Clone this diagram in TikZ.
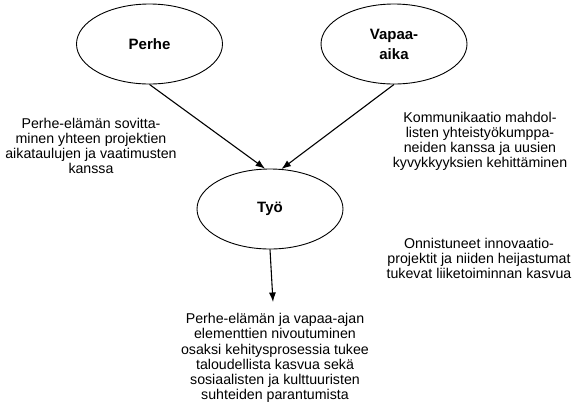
\documentclass[tikz,border=0pt]{standalone}
\usepackage{fontspec}
\setmainfont{Liberation Sans}
\usetikzlibrary{shapes.geometric,arrows.meta}
\begin{document}
\begin{tikzpicture}[x=1pt,y=-1pt,
  area/.style={ellipse,draw,line width=0.9pt,minimum width=146pt,minimum height=80pt,
    inner sep=0pt,align=center,font=\fontsize{15}{20}\selectfont\bfseries},
  note/.style={align=center,inner sep=0pt,font=\fontsize{14.2}{15.2}\selectfont},
  flow/.style={line width=1.1pt,-{Latex[length=9.5pt,width=7pt]}}]
\useasboundingbox (0,0) rectangle (573,408);

% the three domains
\node[area] (perhe) at (149.5,44) {Perhe};
\node[area] (vapaa) at (394,44) {Vapaa-\\aika};
\node[area] (tyo) at (270,209) {Työ};

% connectors
\draw[flow] (perhe.south) -- (tyo.97);
\draw[flow] (vapaa.south) -- (tyo.74);
\coordinate (out) at (273,302);
\draw[flow] (tyo.south) -- (out);

% explanatory texts
\node[note] (tperhe) at (91,146) {Perhe-elämän sovitta-\\minen yhteen projektien\\aikataulujen ja vaatimusten\\kanssa};
\node[note] (tvapaa) at (480,141.5) {Kommunikaatio mahdol-\\listen yhteistyökumppa-\\neiden kanssa ja uusien\\kyvykkyyksien kehittäminen};
\node[note] (ttyo) at (479,258.5) {Onnistuneet innovaatio-\\projektit ja niiden heijastumat\\tukevat liiketoiminnan kasvua};
\node[note] (tout) at (275,358) {Perhe-elämän ja vapaa-ajan\\elementtien nivoutuminen\\osaksi kehitysprosessia tukee\\taloudellista kasvua sekä\\sosiaalisten ja kulttuuristen\\suhteiden parantumista};
\end{tikzpicture}
\end{document}
